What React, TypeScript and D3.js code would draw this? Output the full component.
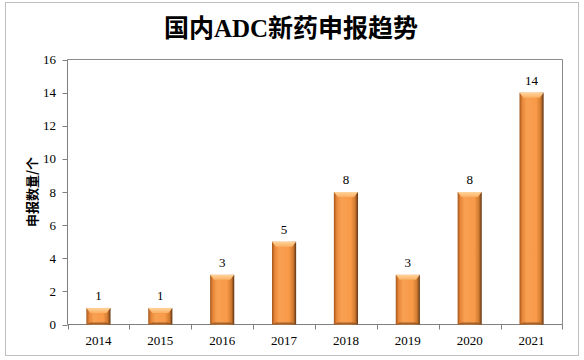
import React from "react";
import * as d3 from "d3";

const years = ["2014", "2015", "2016", "2017", "2018", "2019", "2020", "2021"];
const counts = [1, 1, 3, 5, 8, 3, 8, 14];
const yTicks = [0, 2, 4, 6, 8, 10, 12, 14, 16];
const title = "国内ADC新药申报趋势";
const yTitle = "申报数量/个";

const W = 584;
const H = 360;
const plot = { left: 67.5, right: 562.5, top: 59.5, bottom: 324.5 };

export default function App() {
  const x = d3.scaleBand<string>().domain(years).range([plot.left, plot.right]).paddingInner(0.61).paddingOuter(0.305);
  const band = d3.scaleBand<string>().domain(years).range([plot.left, plot.right]);
  const y = d3.scaleLinear().domain([0, 16]).range([plot.bottom, plot.top]);
  const serif = "'Liberation Serif', 'Times New Roman', serif";
  const bw = x.bandwidth();
  const bev = 4;

  return (
    <svg width={W} height={H} style={{ position: "absolute", left: 0, top: 0 }}>
      <defs>
        <linearGradient id="barH" x1="0" x2="1" y1="0" y2="0">
          <stop offset="0" stopColor="#a5561a" />
          <stop offset="0.12" stopColor="#e8873a" />
          <stop offset="0.3" stopColor="#f8a052" />
          <stop offset="0.7" stopColor="#f89a48" />
          <stop offset="0.88" stopColor="#d07a30" />
          <stop offset="1" stopColor="#5e3312" />
        </linearGradient>
        <linearGradient id="cap" x1="0" x2="0" y1="0" y2="1">
          <stop offset="0" stopColor="#ffd49a" />
          <stop offset="1" stopColor="#fbb064" />
        </linearGradient>
      </defs>
      <rect x={5.5} y={2.5} width={573} height={353} fill="#fff" stroke="#bfbfbf" strokeWidth={1} />
      <text x={291} y={37} textAnchor="middle" fontFamily={`${serif}, 'Noto Sans CJK SC'`} fontWeight="bold" fontSize={25} fill="#000">
        {title}
      </text>
      {/* plot box */}
      <line x1={plot.left} x2={plot.right} y1={plot.top} y2={plot.top} stroke="#8c8c8c" />
      <line x1={plot.right} x2={plot.right} y1={plot.top} y2={plot.bottom} stroke="#8c8c8c" />
      <line x1={plot.left} x2={plot.left} y1={plot.top} y2={plot.bottom} stroke="#808080" />
      <line x1={plot.left} x2={plot.right} y1={plot.bottom} y2={plot.bottom} stroke="#808080" />
      {yTicks.map((t) => (
        <g key={t}>
          <line x1={plot.left - 5} x2={plot.left} y1={Math.round(y(t)) + 0.5} y2={Math.round(y(t)) + 0.5} stroke="#808080" />
          <text x={56} y={y(t) + 4.5} textAnchor="end" fontFamily={serif} fontSize={13} fill="#000">
            {t}
          </text>
        </g>
      ))}
      {years.map((yr, i) => {
        const bx = band(yr)!;
        return (
          <line key={yr} x1={Math.round(bx) + 0.5} x2={Math.round(bx) + 0.5} y1={plot.bottom} y2={plot.bottom + 5} stroke="#808080" />
        );
      })}
      <line x1={plot.right} x2={plot.right} y1={plot.bottom} y2={plot.bottom + 5} stroke="#808080" />
      {years.map((yr) => (
        <text key={yr} x={band(yr)! + band.bandwidth() / 2} y={345} textAnchor="middle" fontFamily={serif} fontSize={13} fill="#000">
          {yr}
        </text>
      ))}
      {years.map((yr, i) => {
        const x0 = x(yr)!;
        const y0 = y(counts[i]);
        const y1 = y(0);
        return (
          <g key={yr}>
            <rect x={x0} y={y0} width={bw} height={y1 - y0} fill="url(#barH)" />
            <polygon
              points={`${x0},${y0} ${x0 + bw},${y0} ${x0 + bw - bev},${y0 + bev + 1} ${x0 + bev},${y0 + bev + 1}`}
              fill="url(#cap)"
            />
            <polygon
              points={`${x0},${y1} ${x0 + bw},${y1} ${x0 + bw - bev},${y1 - 2} ${x0 + bev},${y1 - 2}`}
              fill="#8a4a18"
              opacity={0.7}
            />
            <text x={x0 + bw / 2} y={y0 - 8} textAnchor="middle" fontFamily={serif} fontSize={13} fill="#000">
              {counts[i]}
            </text>
          </g>
        );
      })}
      <text
        transform={`translate(37,192) rotate(-90)`}
        textAnchor="middle"
        fontFamily="'Noto Sans CJK SC', sans-serif"
        fontWeight="bold"
        fontSize={13}
        fill="#000"
      >
        {yTitle}
      </text>
    </svg>
  );
}
